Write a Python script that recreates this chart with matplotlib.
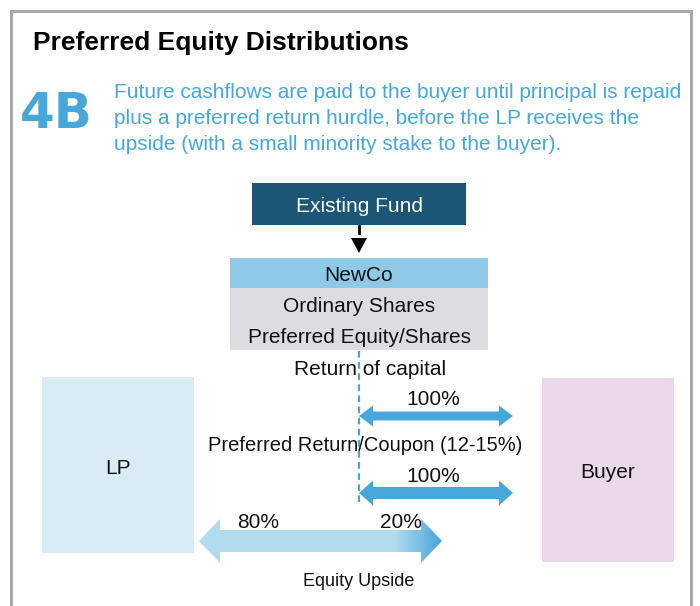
import numpy as np
import matplotlib.pyplot as plt
from matplotlib.patches import Rectangle, Polygon

plt.rcParams['font.family'] = ['Liberation Sans', 'DejaVu Sans']

# texts and values
title = 'Preferred Equity Distributions'
tag = '4B'
blurb = ['Future cashflows are paid to the buyer until principal is repaid',
         'plus a preferred return hurdle, before the LP receives the',
         'upside (with a small minority stake to the buyer).']
fund_label = 'Existing Fund'
newco_label = 'NewCo'
share_labels = ['Ordinary Shares', 'Preferred Equity/Shares']
parties = ['LP', 'Buyer']
flow_labels = ['Return of capital', 'Preferred Return/Coupon (12-15%)']
flow_shares = [100, 100]
upside_split = [80, 20]
upside_label = 'Equity Upside'

BLUE = '#47a7da'
DARK = '#1b5676'
TXT = '#111111'
FS = 15


def double_arrow(x0, x1, yc, shaft, head, hlen):
    pts = [(x0, yc), (x0 + hlen, yc - head), (x0 + hlen, yc - shaft),
           (x1 - hlen, yc - shaft), (x1 - hlen, yc - head), (x1, yc),
           (x1 - hlen, yc + head), (x1 - hlen, yc + shaft),
           (x0 + hlen, yc + shaft), (x0 + hlen, yc + head)]
    return np.array(pts)


def label(x, y, s, **kw):
    # va=center sits a bit high for these fonts, nudge down
    kw.setdefault('fontsize', FS)
    kw.setdefault('color', TXT)
    kw.setdefault('ha', 'center')
    return ax.text(x, y + 2.5, s, va='center', **kw)


fig = plt.figure(figsize=(7, 6.06), dpi=100)
ax = fig.add_axes([0, 0, 1, 1])
ax.set_xlim(0, 700)
ax.set_ylim(606, 0)
ax.axis('off')

# frame
ax.plot([11, 11, 691, 691], [620, 11, 11, 620], color='#a8a8a8', lw=2.2,
        solid_joinstyle='miter')

ax.text(33, 43, title, fontsize=19, fontweight='bold', va='center', ha='left')
ax.text(20, 114, tag, fontsize=36, fontweight='bold', color=BLUE,
        va='center', ha='left', family='DejaVu Sans')
for i, line in enumerate(blurb):
    ax.text(114, 93 + i * 25.5, line, fontsize=15, color=BLUE,
            va='center', ha='left')

# existing fund
ax.add_patch(Rectangle((252, 183), 214, 42, color=DARK, lw=0))
label(359, 204, fund_label, color='white')
ax.plot([359, 359], [226, 233], color='black', lw=2)
ax.add_patch(Polygon([(351, 238), (367, 238), (359, 253)], color='black', lw=0))

# newco
ax.add_patch(Rectangle((230, 258), 258, 30, color='#8ecae8', lw=0))
label(359, 273, newco_label)
ax.add_patch(Rectangle((230, 288), 258, 62, color='#dcdde0', lw=0))
for i, s in enumerate(share_labels):
    label(359, 304 + i * 31, s)

# dashed flow line
ax.plot([359, 359], [351, 502], color=BLUE, lw=1.6, ls=(0, (3, 2)))

# parties
ax.add_patch(Rectangle((42, 377), 152, 176, color='#d9ebf5', lw=0))
label(118, 466, parties[0])
ax.add_patch(Rectangle((542, 378), 132, 184, color='#e9d9eb', lw=0))
label(608, 470, parties[1])

# flows to buyer
label(370, 367, flow_labels[0])
label(365, 443, flow_labels[1], fontsize=14.5)
for yc, pct, sh, hd in zip([416, 493], flow_shares, [4.5, 6], [10.5, 12.5]):
    ax.add_patch(Polygon(double_arrow(359, 513, yc, sh, hd, 14), color=BLUE, lw=0))
    label(433, yc - 19, f'{pct}%')

# equity upside arrow with gradient tip
pts = double_arrow(199, 442, 541, 11, 22, 21)
clip = Polygon(pts, facecolor='none', edgecolor='none')
ax.add_patch(clip)
light = np.array([0.70, 0.86, 0.94])
dark = np.array([0.28, 0.65, 0.85])
xs = np.linspace(199, 442, 300)
t = np.clip((xs - 395) / 47, 0, 1)
grad = light[None, :] * (1 - t[:, None]) + dark[None, :] * t[:, None]
img = ax.imshow(grad[None, :, :], extent=(199, 442, 563, 519), aspect='auto',
                interpolation='bilinear', zorder=1)
img.set_clip_path(clip)
ax.set_xlim(0, 700)
ax.set_ylim(606, 0)
label(258, 520, f'{upside_split[0]}%', zorder=3)
label(401, 520, f'{upside_split[1]}%', zorder=3)
label(359, 579, upside_label, fontsize=13)

fig.savefig('out.png', dpi=100, facecolor='white')
